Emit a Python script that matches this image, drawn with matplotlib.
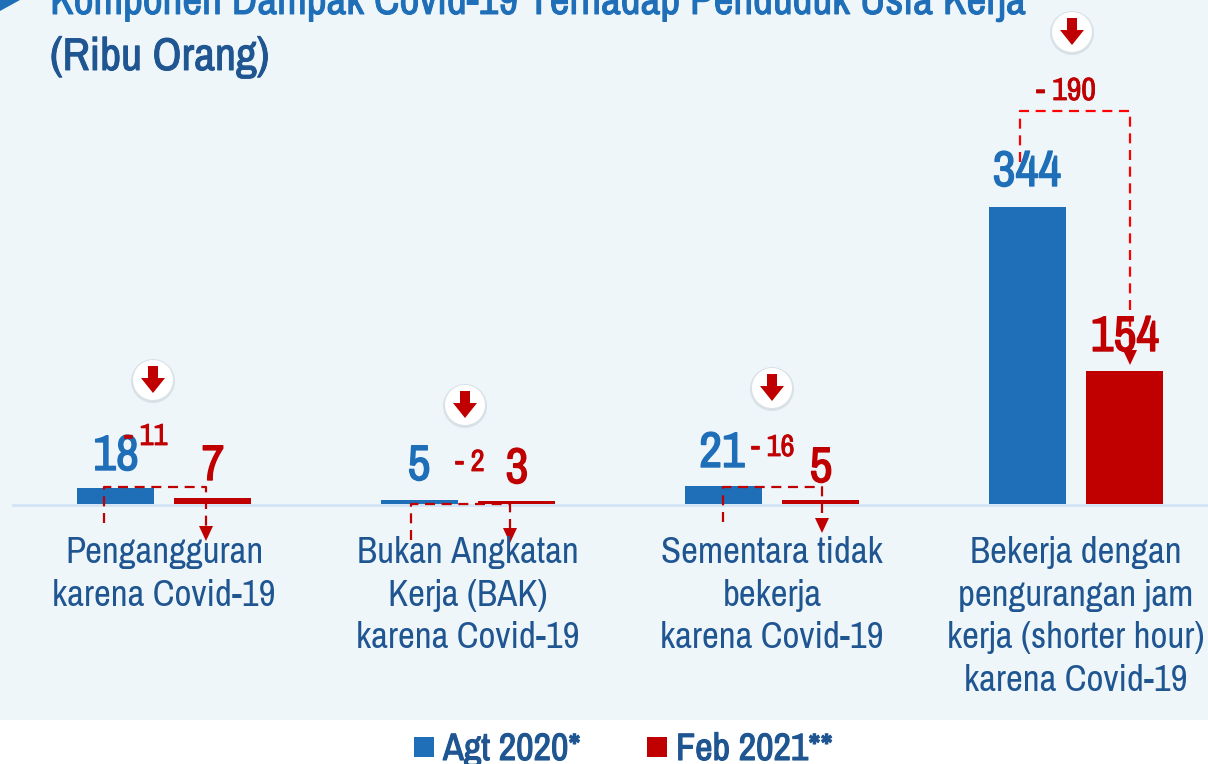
import matplotlib
matplotlib.use("Agg")
import matplotlib.pyplot as plt
import matplotlib.patheffects as pe
from matplotlib.patches import Rectangle, Polygon, Ellipse

plt.rcParams['font.family'] = ['Archivo Narrow', 'Liberation Sans', 'DejaVu Sans']

categories = ["Pengangguran\nkarena Covid-19",
              "Bukan Angkatan\nKerja (BAK)\nkarena Covid-19",
              "Sementara tidak\nbekerja\nkarena Covid-19",
              "Bekerja dengan\npengurangan jam\nkerja (shorter hour)\nkarena Covid-19"]
agt_2020 = [18, 5, 21, 344]
feb_2021 = [7, 3, 5, 154]
selisih = ["- 11", "- 2", "- 16", "- 190"]

BLUE = "#1F6FB8"
RED = "#C00000"
NAVY = "#1F5591"
BG = "#EEF6FA"


def bold(col, w=0.7):
    # the narrow font only comes in one weight, so thicken it
    return [pe.withStroke(linewidth=w, foreground=col)]


fig = plt.figure(figsize=(12.08, 7.64), dpi=100)

# overlay in pixel coords, same as the reference image
ov = fig.add_axes([0, 0, 1, 1], zorder=3)
ov.set_xlim(0, 1208)
ov.set_ylim(764, 0)
ov.axis("off")
ov.patch.set_alpha(0)

bg = fig.add_axes([0, 0, 1, 1], zorder=0)
bg.set_xlim(0, 1208)
bg.set_ylim(764, 0)
bg.axis("off")
bg.add_patch(Rectangle((0, 0), 1208, 720, color=BG, lw=0))
bg.add_patch(Polygon([(0, 0), (20, 0), (0, 11)], color=BLUE, lw=0))
bg.plot([13, 1208], [505, 505], color="#D3E4F4", lw=2)

# bars, baseline at y=504px, 297px for 344
ax = fig.add_axes([0, 0, 1, 1], zorder=2)
ax.patch.set_alpha(0)
ax.set_xlim(-164 / 304, (1208 - 164) / 304)
ax.set_ylim(-260 / 0.8634, 504 / 0.8634)
ax.axis("off")
for i in range(len(categories)):
    ax.bar(i - 0.161, agt_2020[i], 0.253, color=BLUE)
    ax.bar(i + 0.161, feb_2021[i], 0.253, color=RED)

# value labels: x center, baseline y in px
blue_pos = [(116, 470), (419, 480), (722, 467), (1027, 186)]
red_pos = [(213, 480), (517, 483), (821, 482), (1125, 351)]
diff_pos = [(146, 445), (470, 471), (773, 456), (1066, 100)]
diff_size = [22, 22, 22, 23]
for i in range(4):
    ov.text(blue_pos[i][0], blue_pos[i][1], str(agt_2020[i]), color=BLUE, fontsize=36,
            ha="center", va="baseline", path_effects=bold(BLUE, 1.0))
    ov.text(red_pos[i][0], red_pos[i][1], str(feb_2021[i]), color=RED, fontsize=36,
            ha="center", va="baseline", path_effects=bold(RED, 1.0))
    ov.text(diff_pos[i][0], diff_pos[i][1], selisih[i], color=RED, fontsize=diff_size[i],
            ha="center", va="baseline", path_effects=bold(RED, 0.6))

# dashed brackets
brackets = [(104, 523, 487, 206, 536),
            (411, 540, 504, 510, 538),
            (723, 522, 487, 822, 528),
            (1020, 162, 111, 1130, 360)]
for i, (x1, y1, ytop, x2, y2) in enumerate(brackets):
    col = "#FF0000" if i == 3 else RED
    ov.plot([x1, x1, x2, x2], [y1, ytop, ytop, y2 - 10], color=col, lw=1.6,
            dashes=(4.5, 3))
    ov.add_patch(Polygon([(x2 - 7, y2 - 10), (x2 + 7, y2 - 10), (x2, y2 + 5)], color=RED, lw=0))

# down arrow badges
badges = [(153, 380), (465, 405), (772, 388), (1072, 32)]
for cx, cy in badges:
    ov.add_patch(Ellipse((cx, cy + 1), 44, 44, color="#9AA5AD", alpha=0.25, lw=0))
    ov.add_patch(Ellipse((cx, cy), 40, 40, color="white", lw=0))
    ov.add_patch(Polygon([(cx - 5, cy - 14), (cx + 5, cy - 14), (cx + 5, cy - 2), (cx + 12, cy - 2),
                          (cx, cy + 13), (cx - 12, cy - 2), (cx - 5, cy - 2)], color=RED, lw=0))

# category labels
lab_x = [164, 468, 772, 1076]
for i, c in enumerate(categories):
    ov.text(lab_x[i], 536, c, color=NAVY, fontsize=26.5, ha="center", va="top", linespacing=1.36)

# title, first line runs off the top of the picture
ov.text(50, 14, "Komponen Dampak Covid-19 Terhadap Penduduk Usia Kerja", color=BLUE, fontsize=31.2,
        ha="left", va="baseline", path_effects=bold(BLUE))
ov.text(50, 70, "(Ribu Orang)", color=NAVY, fontsize=33, ha="left", va="baseline",
        path_effects=bold(NAVY))

# legend
ov.add_patch(Rectangle((414, 737), 20, 20, color=BLUE, lw=0))
ov.add_patch(Rectangle((647, 737), 20, 20, color=RED, lw=0))
ov.text(443, 760, "Agt 2020*", color=NAVY, fontsize=27.5, ha="left", va="baseline",
        path_effects=bold(NAVY, 0.8))
ov.text(676, 760, "Feb 2021**", color=NAVY, fontsize=27.5, ha="left", va="baseline",
        path_effects=bold(NAVY, 0.8))

fig.savefig("out.png", dpi=100)
